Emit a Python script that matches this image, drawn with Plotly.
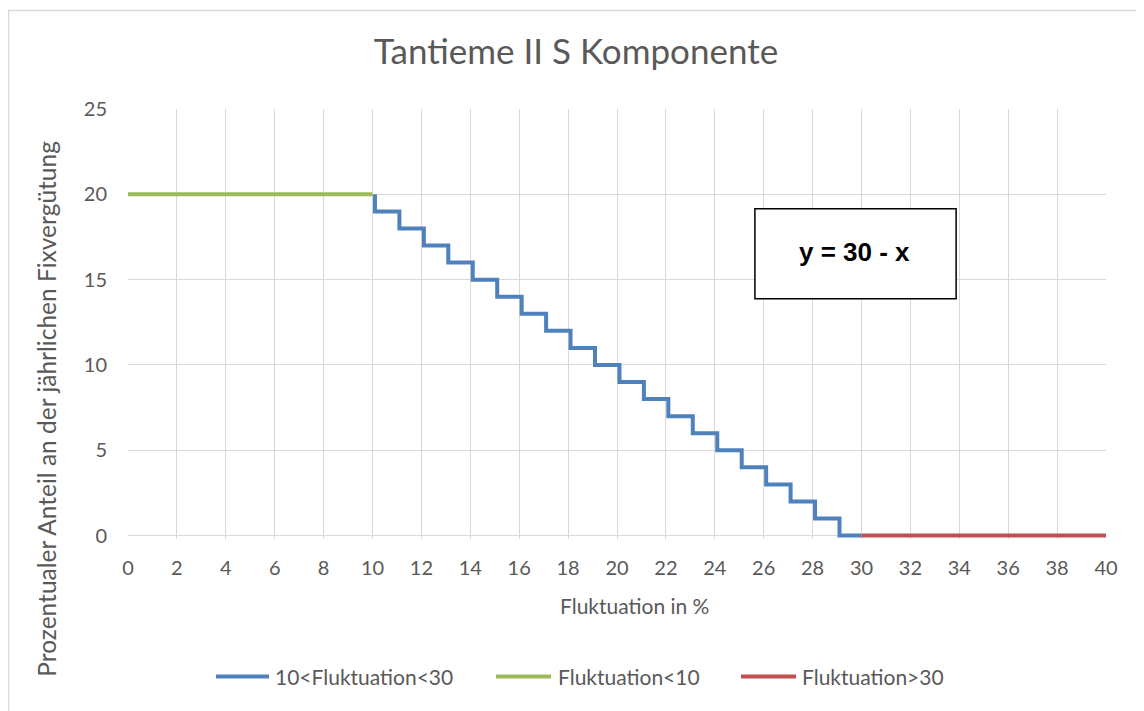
import plotly.graph_objects as go

# ---- data ----
green_x = [0, 10]
green_y = [20, 20]
blue_x = [10.1, 11.1, 12.1, 13.1, 14.1, 15.1, 16.1, 17.1, 18.1, 19.1, 20.1,
          21.1, 22.1, 23.1, 24.1, 25.1, 26.1, 27.1, 28.1, 29.1, 30]
blue_y = [20, 19, 18, 17, 16, 15, 14, 13, 12, 11, 10,
          9, 8, 7, 6, 5, 4, 3, 2, 1, 0]
red_x = [30, 40]
red_y = [0, 0]
series_names = ["10<Fluktuation<30", "Fluktuation<10", "Fluktuation>30"]
series_colors = ["#4F81BD", "#9BBB59", "#C0504D"]
x_ticks = list(range(0, 41, 2))
y_ticks = [0, 5, 10, 15, 20, 25]

FONT = "Lato"
GRAY = "#595959"

# page offset (body margin) and plot geometry in figure pixels
OFF = 8
W, H = 1144 - OFF, 711 - OFF
PL, PR = 128 - OFF, 1106 - OFF
PT = 109 - OFF
YMIN = -0.2
UNIT_Y = 427 / 25
PB = (536 - OFF) + (-YMIN) * UNIT_Y


def px(pagex):
    return (pagex - OFF - PL) / (PR - PL)


def py(pagey):
    return (PB - (pagey - OFF)) / (PB - PT)


fig = go.Figure()
fig.add_trace(go.Scatter(x=blue_x, y=blue_y, mode="lines", line_shape="vh",
                         name=series_names[0], line=dict(color=series_colors[0], width=4)))
fig.add_trace(go.Scatter(x=green_x, y=green_y, mode="lines",
                         name=series_names[1], line=dict(color=series_colors[1], width=4)))
fig.add_trace(go.Scatter(x=red_x, y=red_y, mode="lines",
                         name=series_names[2], line=dict(color=series_colors[2], width=4)))

fig.update_layout(
    width=W, height=H,
    margin=dict(l=PL, r=W - PR, t=PT, b=H - PB, autoexpand=False),
    paper_bgcolor="white", plot_bgcolor="white",
    font=dict(family=FONT, color=GRAY, size=20),
    title=dict(text="Tantieme II S Komponente", x=0.5, xanchor="center",
               y=1 - (52 - OFF) / H, yanchor="middle",
               font=dict(family=FONT, size=35, color=GRAY)),
    xaxis=dict(range=[0, 40], tickvals=x_ticks, ticktext=[str(v) for v in x_ticks],
               showgrid=True, gridcolor="#D9D9D9", gridwidth=1.3,
               zeroline=False, showline=False, ticks="", ticklabelstandoff=15,
               tickfont=dict(size=20, color=GRAY)),
    yaxis=dict(range=[YMIN, 25], tickvals=y_ticks, ticktext=[str(v) for v in y_ticks],
               showgrid=True, gridcolor="#D9D9D9", gridwidth=1.3,
               zeroline=False, showline=False, ticks="", ticklabelstandoff=20,
               tickfont=dict(size=20, color=GRAY)),
    showlegend=False,
)

# axis titles (positioned as in the reference)
fig.add_annotation(xref="paper", yref="paper", x=px(634), y=py(606),
                   text="Fluktuation in %", showarrow=False,
                   xanchor="center", yanchor="middle",
                   font=dict(family=FONT, size=21, color=GRAY))
fig.add_annotation(xref="paper", yref="paper", x=px(47), y=py(409),
                   text="Prozentualer Anteil an der jährlichen Fixvergütung",
                   showarrow=False, textangle=-90,
                   xanchor="center", yanchor="middle",
                   font=dict(family=FONT, size=24.5, color=GRAY))

# outer chart border (only top and left visible in the crop)
fig.add_shape(type="rect", xref="paper", yref="paper",
              x0=px(8.5), x1=px(1170), y0=py(740), y1=py(10.5),
              line=dict(color="#D9D9D9", width=1.5), fillcolor="rgba(0,0,0,0)", layer="below")

# manual legend
leg_y = py(677)
leg_lines = [(216, 269), (496, 551), (741, 796)]
leg_text_x = [273, 556, 800]
for (a, b), tx, name, col in zip(leg_lines, leg_text_x, series_names, series_colors):
    fig.add_shape(type="line", xref="paper", yref="paper", x0=px(a), x1=px(b),
                  y0=leg_y, y1=leg_y, line=dict(color=col, width=4))
    fig.add_annotation(xref="paper", yref="paper", x=px(tx), y=leg_y, text=name,
                       showarrow=False, xanchor="left", yanchor="middle",
                       font=dict(family=FONT, size=21, color=GRAY))

# formula text box
fig.add_shape(type="rect", xref="x", yref="y", x0=25.64, x1=33.87, y0=13.88, y1=19.15,
              line=dict(color="black", width=1.5), fillcolor="white", layer="above")
fig.add_annotation(x=29.73, y=16.63, xref="x", yref="y", text="<b>y = 30 - x</b>",
                   showarrow=False, font=dict(family="Liberation Sans, Arial", size=26, color="black"))

fig.write_html("out.html")
